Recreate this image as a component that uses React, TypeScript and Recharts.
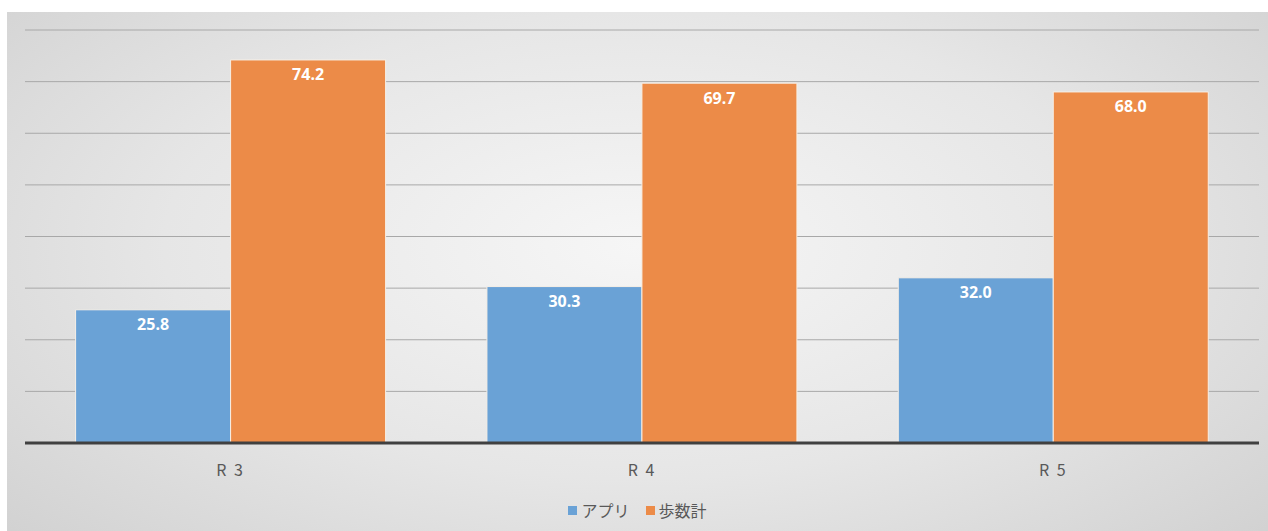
import { Bar, BarChart, CartesianGrid, LabelList, XAxis, YAxis } from 'recharts'

const categories = ['R 3', 'R 4', 'R 5']
const appValues = [25.8, 30.3, 32.0]
const pedometerValues = [74.2, 69.7, 68.0]
const yTicks = [0, 10, 20, 30, 40, 50, 60, 70, 80]

const SERIES = [
  { key: 'app', name: 'アプリ', color: '#6aa2d6' },
  { key: 'pedometer', name: '歩数計', color: '#ec8b48' },
]

const data = categories.map((cat, i) => ({
  cat,
  app: appValues[i],
  pedometer: pedometerValues[i],
}))

const JP_FONT = '"Noto Sans CJK JP", "Noto Sans", sans-serif'

// legend sits under the axis labels, outside the svg so it doesn't eat plot height
const LegendBox = () => (
  <div
    style={{
      position: 'absolute',
      left: 0,
      right: 0,
      top: 486,
      display: 'flex',
      justifyContent: 'center',
      gap: 16,
      fontFamily: JP_FONT,
      fontSize: 16,
      color: '#595959',
    }}
  >
    {SERIES.map((s) => (
      <span key={s.key} style={{ display: 'flex', alignItems: 'center', gap: 4 }}>
        <span style={{ width: 9, height: 9, background: s.color, display: 'inline-block' }} />
        {s.name}
      </span>
    ))}
  </div>
)

const fmt = (v: unknown) => Number(v).toFixed(1)

export default function App() {
  return (
    <div
      style={{
        position: 'fixed',
        left: 0,
        top: 0,
        width: 1268,
        height: 531,
        background: '#fff',
      }}
    >
      <div
        style={{
          position: 'absolute',
          left: 7,
          top: 12,
          width: 1261,
          height: 519,
          background: 'radial-gradient(ellipse 75% 90% at 50% 45%, #f6f6f6 0%, #e6e6e6 50%, #cdcdcd 100%)',
        }}
      >
        <BarChart
          width={1261}
          height={519}
          data={data}
          margin={{ top: 18, right: 9, bottom: 0, left: 18 }}
          barCategoryGap="12.3%"
          barGap={0}
        >
          <CartesianGrid vertical={false} stroke="#a8a8a8" strokeWidth={1} />
          <YAxis hide domain={[0, 80]} ticks={yTicks} />
          <XAxis
            dataKey="cat"
            axisLine={{ stroke: '#404040', strokeWidth: 3 }}
            tickLine={false}
            tick={{ fontSize: 16, fill: '#595959', fontFamily: JP_FONT, letterSpacing: 2 }}
            tickMargin={16}
            height={88}
          />
          {SERIES.map((s) => (
            <Bar
              key={s.key}
              dataKey={s.key}
              name={s.name}
              fill={s.color}
              stroke="#f7efe6"
              strokeWidth={1}
              isAnimationActive={false}
            >
              <LabelList
                dataKey={s.key}
                position="insideTop"
                offset={9}
                formatter={fmt}
                fill="#ffffff"
                fontSize={16}
                fontWeight={700}
                fontFamily='"Noto Sans", sans-serif'
              />
            </Bar>
          ))}
        </BarChart>
        <LegendBox />
      </div>
    </div>
  )
}
